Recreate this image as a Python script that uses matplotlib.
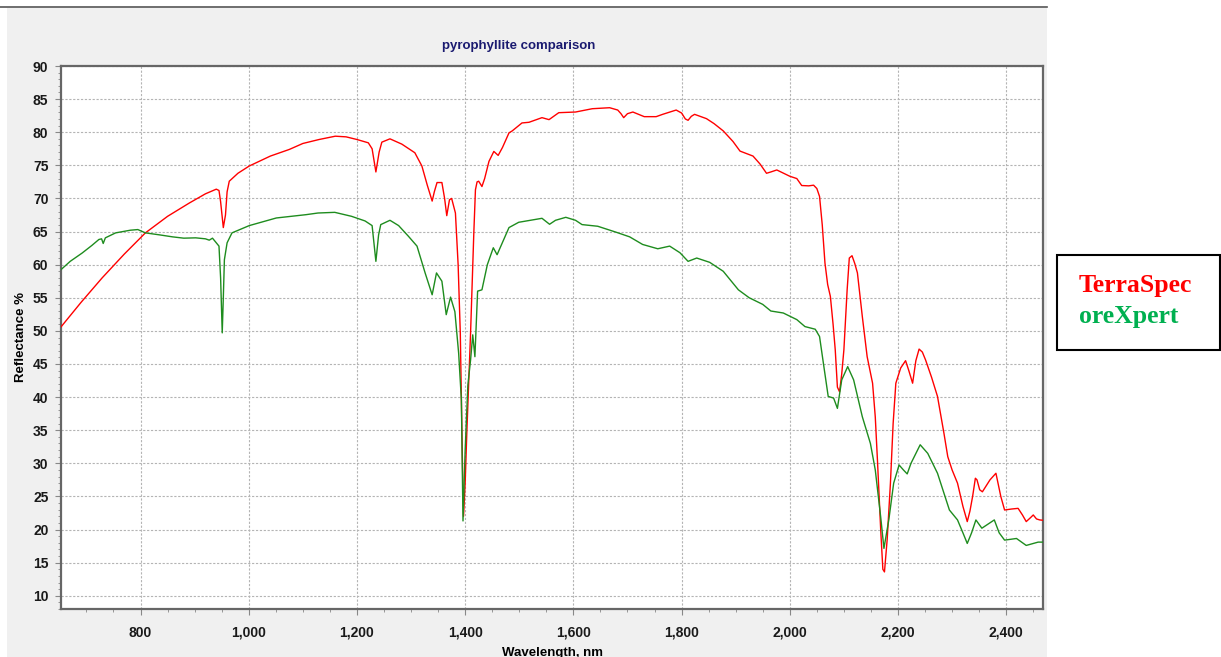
import matplotlib.pyplot as plt
from matplotlib.patches import Rectangle
from matplotlib.ticker import MultipleLocator, FuncFormatter

# TerraSpec spectrum (nm, reflectance %)
terra_nm = [653, 690, 729, 770, 809, 850, 890, 920, 940, 945, 948, 953, 957, 960, 964,
            980, 1001, 1040, 1075, 1100, 1130, 1160, 1180, 1200, 1221, 1228, 1235, 1241,
            1246, 1261, 1283, 1307, 1320, 1330, 1339, 1343, 1348, 1357, 1362, 1366, 1371,
            1375, 1382, 1387, 1391, 1395, 1397, 1400, 1403, 1410, 1416, 1419, 1422, 1425,
            1431, 1436, 1444, 1453, 1461, 1469, 1481, 1487, 1505, 1518, 1542, 1555, 1573,
            1604, 1620, 1635, 1667, 1682, 1688, 1693, 1700, 1710, 1731, 1753, 1765, 1790,
            1800, 1807, 1812, 1818, 1824, 1846, 1860, 1877, 1895, 1908, 1932, 1945, 1957,
            1965, 1976, 2000, 2013, 2022, 2035, 2044, 2050, 2055, 2060, 2065, 2070, 2075,
            2080, 2084, 2088, 2092, 2096, 2100, 2106, 2110, 2115, 2120, 2125, 2134, 2143,
            2153, 2158, 2162, 2168, 2172, 2175, 2180, 2186, 2191, 2196, 2205, 2214, 2220,
            2227, 2233, 2239, 2245, 2251, 2262, 2273, 2285, 2292, 2300, 2310, 2320, 2328,
            2333, 2338, 2343, 2346, 2351, 2356, 2370, 2381, 2390, 2397, 2410, 2422, 2430,
            2437, 2445, 2450, 2456, 2462, 2468]
terra_refl = [50.6, 54.3, 58.0, 61.6, 64.8, 67.3, 69.3, 70.7, 71.4, 71.2, 69.5, 65.6, 67.5,
              71.0, 72.6, 73.8, 74.9, 76.4, 77.4, 78.3, 78.9, 79.4, 79.3, 78.9, 78.4, 77.5,
              74.0, 77.0, 78.5, 79.0, 78.2, 76.9, 74.9, 72.0, 69.6, 71.0, 72.4, 72.4, 70.0,
              67.4, 69.8, 70.0, 67.8, 60.0, 49.7, 30.0, 22.0, 27.0, 34.5, 49.7, 64.8, 71.3,
              72.5, 72.6, 71.8, 73.0, 75.6, 77.1, 76.5, 77.7, 79.9, 80.2, 81.4, 81.5, 82.2,
              81.9, 82.95, 83.05, 83.3, 83.55, 83.7, 83.35, 82.8, 82.2, 82.8, 83.05, 82.35,
              82.35, 82.7, 83.35, 82.9, 82.0, 81.8, 82.4, 82.7, 82.05, 81.3, 80.2, 78.6,
              77.15, 76.4, 75.2, 73.8, 74.0, 74.3, 73.35, 73.0, 71.95, 71.9, 72.0, 71.5,
              70.3, 66.0, 60.25, 57.0, 55.2, 51.0, 47.15, 41.5, 40.8, 43.5, 47.15, 56.2,
              61.0, 61.35, 60.2, 58.75, 52.2, 46.1, 42.1, 37.0, 30.5, 20.0, 14.0, 13.6,
              18.5, 27.0, 36.0, 42.1, 44.4, 45.5, 44.0, 42.1, 45.5, 47.25, 46.8, 45.6, 43.0,
              40.1, 34.5, 31.0, 29.0, 27.0, 23.5, 21.2, 22.8, 25.05, 27.75, 27.5, 26.0, 25.7,
              27.5, 28.5, 25.0, 22.95, 23.1, 23.2, 22.2, 21.2, 21.8, 22.2, 21.6, 21.45, 21.4]

# oreXpert spectrum (nm, reflectance %)
ore_nm = [653, 670, 692, 710, 723, 728, 731, 735, 754, 781, 795, 809, 835, 859, 880, 902,
          920, 927, 933, 939, 945, 948, 951, 953, 955, 960, 969, 1001, 1051, 1106, 1128,
          1159, 1190, 1215, 1228, 1235, 1240, 1244, 1261, 1277, 1295, 1311, 1326, 1339,
          1347, 1357, 1365, 1373, 1381, 1388, 1393, 1396, 1400, 1405, 1410, 1414, 1418,
          1423, 1431, 1441, 1452, 1459, 1481, 1499, 1542, 1556, 1567, 1586, 1604, 1616,
          1645, 1679, 1704, 1728, 1756, 1778, 1797, 1812, 1828, 1852, 1877, 1905, 1925,
          1950, 1965, 1988, 2013, 2028, 2047, 2055, 2063, 2071, 2081, 2088, 2096, 2107,
          2118, 2134, 2149, 2158, 2168, 2174, 2183, 2192, 2202, 2210, 2217, 2224, 2241,
          2255, 2273, 2295, 2310, 2320, 2328, 2336, 2344, 2355, 2378, 2387, 2397, 2419,
          2437, 2459, 2468]
ore_refl = [59.25, 60.5, 61.75, 62.9, 63.8, 63.9, 63.2, 64.05, 64.8, 65.2, 65.3, 64.8, 64.5,
            64.2, 64.0, 64.05, 63.9, 63.7, 64.0, 63.4, 62.8, 58.0, 49.7, 55.0, 60.75, 63.3,
            64.8, 65.9, 67.05, 67.55, 67.8, 67.9, 67.3, 66.6, 65.9, 60.5, 64.5, 66.05, 66.7,
            65.9, 64.3, 62.8, 58.75, 55.45, 58.75, 57.5, 52.45, 55.1, 52.9, 46.6, 39.6, 21.3,
            32.0, 41.85, 45.6, 49.4, 46.1, 56.0, 56.2, 60.0, 62.55, 61.5, 65.6, 66.4, 67.0,
            66.1, 66.7, 67.15, 66.7, 66.05, 65.8, 64.9, 64.2, 63.05, 62.4, 62.8, 61.8, 60.5,
            61.0, 60.35, 59.0, 56.2, 55.0, 54.0, 53.0, 52.7, 51.7, 50.65, 50.25, 49.15, 44.6,
            40.1, 39.85, 38.3, 42.6, 44.6, 42.6, 37.05, 33.0, 29.0, 21.9, 17.15, 21.45, 27.0,
            29.75, 29.0, 28.4, 30.0, 32.8, 31.5, 28.5, 22.95, 21.45, 19.5, 17.9, 19.5, 21.45,
            20.2, 21.45, 19.5, 18.4, 18.65, 17.6, 18.1, 18.1]

W, H = 1221, 657
fig = plt.figure(figsize=(W / 100, H / 100), dpi=100)
fig.patch.set_facecolor("white")

# grey chart panel behind the plot, with a rule along its top
fig.patches.append(Rectangle((7 / W, 0), 1040 / W, 1 - 8 / H, transform=fig.transFigure,
                             facecolor="#f0f0f0", edgecolor="none", zorder=-5))
fig.add_artist(plt.Line2D([0, 1047 / W], [1 - 7 / H, 1 - 7 / H], color="#555555", lw=1.2))

ax = fig.add_axes([61 / W, 1 - 609 / H, (1043 - 61) / W, (609 - 66) / H])
ax.set_zorder(2)
ax.set_facecolor("white")
ax.plot(terra_nm, terra_refl, color="#ff0000", lw=1.0, zorder=3)
ax.plot(ore_nm, ore_refl, color="#1e8c1e", lw=1.0, zorder=3)

ax.set_xlim(653, 2468)
ax.set_ylim(8, 90)
ax.xaxis.set_major_locator(MultipleLocator(200))
ax.xaxis.set_minor_locator(MultipleLocator(50))
ax.yaxis.set_major_locator(MultipleLocator(5))
ax.yaxis.set_minor_locator(MultipleLocator(1))
ax.xaxis.set_major_formatter(FuncFormatter(lambda v, p: f"{int(v):,}"))
ax.grid(True, which="major", color="#b4b4b4", linestyle=(0, (2, 1.5)), lw=0.8)

tick_font = dict(family="Liberation Sans", weight="bold", size=10)
for lab in ax.get_xticklabels() + ax.get_yticklabels():
    lab.set(**tick_font, color="#1a1a1a")
ax.tick_params(which="major", length=4, color="#888888", pad=5)
ax.tick_params(which="minor", length=2.5, color="#888888")
ax.tick_params(axis="x", pad=8)
for s in ax.spines.values():
    s.set_color("#666666")
    s.set_linewidth(1.6)

ax.set_xlabel("Wavelength, nm", family="Liberation Sans", weight="bold", size=9.5,
              labelpad=5)
ax.set_ylabel("Reflectance %", family="Liberation Sans", weight="bold", size=9.5,
              labelpad=4)
fig.text(519 / W, 1 - 46 / H, "pyrophyllite comparison", ha="center", va="center",
         family="Liberation Sans", weight="bold", size=9.5, color="#1a1a70")

# hand-made legend box on the right
fig.patches.append(Rectangle((1057 / W, 1 - 350 / H), 163 / W, 95 / H,
                             transform=fig.transFigure, facecolor="white",
                             edgecolor="black", lw=1.5, zorder=1))
fig.text(1079 / W, 1 - 292 / H, "TerraSpec", color="#ff0000", family="Liberation Serif",
         weight="bold", size=18.5, va="baseline")
fig.text(1079 / W, 1 - 323 / H, "oreXpert", color="#00b050", family="Liberation Serif",
         weight="bold", size=18.5, va="baseline")

fig.savefig("out.png", dpi=100)
